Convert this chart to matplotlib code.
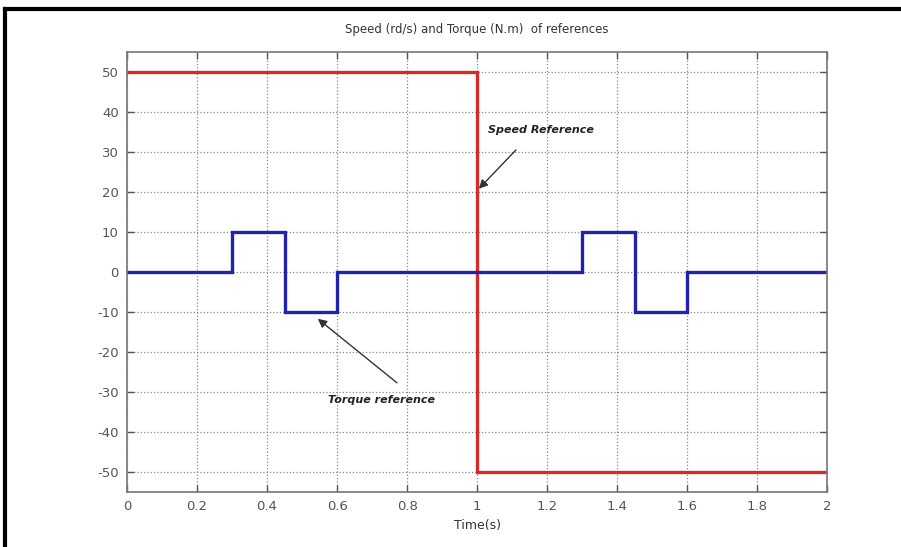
import numpy as np
import matplotlib
matplotlib.use('Agg')
import matplotlib.pyplot as plt
from matplotlib.lines import Line2D

# reference signals (step form)
speed_t = [0, 1, 1, 2]
speed_v = [50, 50, -50, -50]
torque_t = [0, 0.3, 0.3, 0.45, 0.45, 0.6, 0.6, 1.3, 1.3, 1.45, 1.45, 1.6, 1.6, 2]
torque_v = [0, 0, 10, 10, -10, -10, 0, 0, 10, 10, -10, -10, 0, 0]
xticks = [0, 0.2, 0.4, 0.6, 0.8, 1, 1.2, 1.4, 1.6, 1.8, 2]
xticklabels = ['0', '0.2', '0.4', '0.6', '0.8', '1', '1.2', '1.4', '1.6', '1.8', '2']
yticks = [-50, -40, -30, -20, -10, 0, 10, 20, 30, 40, 50]

plt.rcParams['font.family'] = ['DejaVu Sans']
plt.rcParams['axes.unicode_minus'] = False

fig = plt.figure(figsize=(9.01, 5.47), dpi=100)
ax = fig.add_axes([0.141, 0.1005, 0.777, 0.8045])

ax.plot(speed_t, speed_v, color='#d42a2a', lw=2.4, solid_joinstyle='miter')
ax.plot(torque_t, torque_v, color='#2222b0', lw=2.4, solid_joinstyle='miter')

ax.set_xlim(0, 2)
ax.set_ylim(-55, 55)
ax.set_xticks(xticks)
ax.set_xticklabels(xticklabels)
ax.set_yticks(yticks)
ax.grid(True, ls=':', color='#888888', lw=0.9)
ax.tick_params(direction='in', top=True, right=True, length=5, width=1,
               colors='#555555', labelsize=9.5, pad=6)
for sp in ax.spines.values():
    sp.set_color('#777777')
    sp.set_linewidth(1.2)

ax.set_xlabel('Time(s)', fontsize=9, color='#333333', labelpad=4)
ax.set_title('Speed (rd/s) and Torque (N.m)  of references', fontsize=8.5,
             color='#333333', pad=14)

# annotations: arrow and label drawn separately
arrow = dict(arrowstyle='-|>', color='#333333', lw=1.0,
             shrinkA=0, shrinkB=0, mutation_scale=13)
ax.annotate('', xy=(1.005, 20.8), xytext=(1.111, 30.5), arrowprops=arrow)
ax.text(1.183, 35.5, 'Speed Reference', ha='center', va='center',
        fontsize=8, style='italic', weight='bold', color='#222222')
ax.annotate('', xy=(0.545, -11.7), xytext=(0.771, -27.7), arrowprops=arrow)
ax.text(0.726, -32, 'Torque reference', ha='center', va='center',
        fontsize=8, style='italic', weight='bold', color='#222222')

# outer frame lines (top and left)
fig.add_artist(Line2D([0.006, 1.0], [0.984, 0.984], transform=fig.transFigure,
                      color='black', lw=3))
fig.add_artist(Line2D([0.006, 0.006], [0.0, 0.984], transform=fig.transFigure,
                      color='black', lw=3))

fig.savefig('out.png', dpi=100, facecolor='white')
